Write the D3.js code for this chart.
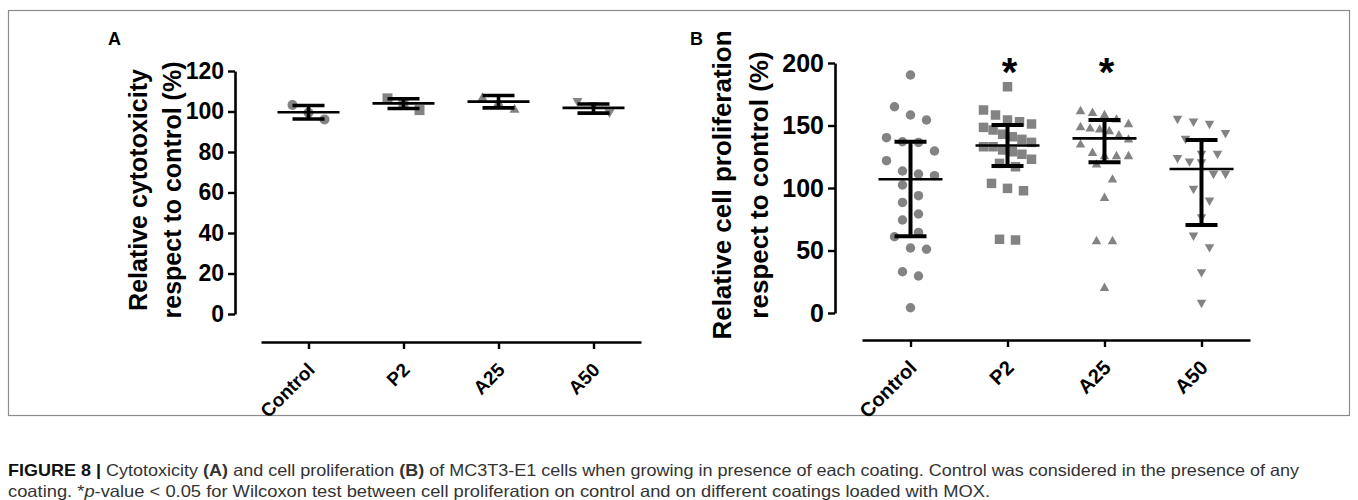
<!DOCTYPE html>
<html>
<head>
<meta charset="utf-8">
<script src="https://cdn.jsdelivr.net/npm/d3@7"></script>
<style>
  body { margin: 0; background: #fff; }
  svg { display: block; }
</style>
</head>
<body>
<svg id="chart" width="1358" height="500"></svg>
<script>
// groups along the x axis
var categories = ['Control', 'P2', 'A25', 'A50'];

// panel A: relative cytotoxicity, 3 replicates per group, mean +/- SD
var cytoValues = [
  [103.2, 96.1, 99.4],
  [106.5, 100.7, 104],
  [107.3, 101.6, 104.9],
  [104.5, 99, 102.5]
];
var cytoCenter = [99.6, 104, 104.9, 101.8];
var cytoLow = [96.3, 101.5, 101.8, 99.2];
var cytoHigh = [103, 106.3, 107.9, 103.7];
var cytoTicks = [0, 20, 40, 60, 80, 100, 120];

// panel B: relative cell proliferation, median with interquartile range
var prolifControl = [190.4, 165, 158.4, 154.4, 140.3, 137, 136.5, 129.6, 121.9, 113.6, 111.2, 109.9,
  102.4, 93.9, 88.5, 79.2, 74.4, 64.5, 61, 52, 51, 33, 29.6, 4.2];
var prolifP2 = [181, 162.4, 158.4, 154.4, 153, 151.2, 148.5, 146.4, 143, 141, 138.9, 136.5, 133, 133,
  130.4, 129, 127, 123, 119.7, 117, 103.7, 99.7, 97.8, 59, 58.4];
var prolifA25 = [162.4, 161, 159.2, 155.7, 152, 149.6, 148.5, 147.7, 146.4, 143, 139.7, 135.7, 129,
  126.4, 126.4, 126.4, 119.7, 107.7, 93, 58.4, 58.4, 21];
var prolifA50 = [154.4, 152.2, 150.4, 143, 138.4, 126.4, 126.4, 123, 120.3, 119.7, 110.4, 110.4, 98.4,
  89, 75.7, 61, 51.7, 31.7, 7.2];
var prolifCenter = [107, 134, 139.7, 115.2];
var prolifLow = [61.5, 117.6, 120.6, 70.4];
var prolifHigh = [137, 150.4, 154.4, 138.4];
var prolifTicks = [0, 50, 100, 150, 200];
var significant = ['P2', 'A25'];

var FONT = '"Liberation Sans", Arial, Helvetica, sans-serif';
var GREY = '#838383';

var svg = d3.select('#chart');
svg.append('rect').attr('width', 1358).attr('height', 500).attr('fill', '#fff');

// outer frame of the figure
svg.append('rect')
  .attr('x', 8.5).attr('y', 10.5)
  .attr('width', 1341).attr('height', 405)
  .attr('fill', 'none')
  .attr('stroke', '#8c8c8c')
  .attr('stroke-width', 1.2);

// spread the points of one group sideways (rows of similar value, centred)
function swarm(vals, y, gap, binH, maxW){
  var order = vals.map(function(v, i){ return i; })
    .sort(function(a, b){ return vals[b] - vals[a]; });
  var off = vals.map(function(){ return 0; });
  var bin = [], y0 = 0;
  function flush(){
    var n = bin.length;
    var s = n > 1 ? Math.min(gap, maxW / (n - 1)) : 0;
    bin.forEach(function(k, j){ off[k] = (j - (n - 1) / 2) * s; });
    bin = [];
  }
  order.forEach(function(i){
    var yy = y(vals[i]);
    if(bin.length && yy - y0 > binH) flush();
    if(!bin.length) y0 = yy;
    bin.push(i);
  });
  flush();
  return off;
}

function markerPath(kind, s){
  if(kind === 'circle') return d3.symbol(d3.symbolCircle, Math.PI * s * s / 4)();
  if(kind === 'square') return d3.symbol(d3.symbolSquare, s * s)();
  var h = s * 0.88, w = s;
  if(kind === 'up') return 'M0,' + (-h / 2) + 'L' + (w / 2) + ',' + (h / 2) + 'L' + (-w / 2) + ',' + (h / 2) + 'Z';
  return 'M0,' + (h / 2) + 'L' + (w / 2) + ',' + (-h / 2) + 'L' + (-w / 2) + ',' + (-h / 2) + 'Z';
}
var kinds = ['circle', 'square', 'up', 'down'];

function drawPanel(o){
  var g = svg.append('g');
  var y = d3.scaleLinear().domain(o.domain).range([o.y0, o.y1]);
  var x = d3.scalePoint().domain(categories).range([o.xa, o.xb]).padding(0.5);

  // y axis
  var ya = g.append('g')
    .attr('transform', 'translate(' + o.yAxisX + ',0)')
    .call(d3.axisLeft(y).tickValues(o.ticks).tickSize(7).tickSizeOuter(0).tickPadding(4));
  ya.select('.domain').attr('stroke', '#000').attr('stroke-width', 2.6);
  ya.selectAll('.tick line').attr('stroke', '#000').attr('stroke-width', 2.4);
  ya.selectAll('.tick text')
    .attr('fill', '#000')
    .style('font-family', FONT).style('font-weight', 'bold').style('font-size', o.tickFont + 'px');

  // x axis
  var xa = g.append('g')
    .attr('transform', 'translate(0,' + o.xAxisY + ')')
    .call(d3.axisBottom(x).tickSize(7).tickSizeOuter(0));
  xa.select('.domain').attr('stroke', '#000').attr('stroke-width', 2.6);
  xa.selectAll('.tick line').attr('stroke', '#000').attr('stroke-width', 2.4);
  xa.selectAll('.tick text')
    .attr('x', 0).attr('y', 0).attr('dy', null)
    .attr('text-anchor', 'end')
    .attr('transform', 'translate(7,29) rotate(-45)')
    .attr('fill', '#000')
    .style('font-family', FONT).style('font-weight', 'bold').style('font-size', o.catFont + 'px');

  // y title, two lines
  var tx = g.append('text')
    .attr('transform', 'translate(0,' + o.titleY + ') rotate(-90)')
    .attr('text-anchor', 'middle')
    .style('font-family', FONT).style('font-weight', 'bold').style('font-size', o.titleFont + 'px');
  o.title.forEach(function(line, i){
    tx.append('tspan').attr('x', 0).attr('y', o.titleX[i]).text(line);
  });

  // panel letter
  g.append('text')
    .attr('x', o.letterX).attr('y', 45)
    .style('font-family', FONT).style('font-weight', 'bold').style('font-size', '18px')
    .text(o.letter);

  // points
  categories.forEach(function(c, ci){
    var vals = o.values[ci];
    var off = swarm(vals, y, o.gap, o.binH, o.maxW);
    g.append('g').selectAll('path')
      .data(vals)
      .enter().append('path')
      .attr('transform', function(d, i){ return 'translate(' + (x(c) + off[i]) + ',' + y(d) + ')'; })
      .attr('d', markerPath(kinds[ci], o.marker))
      .attr('fill', GREY);
  });

  // summary line and error bars on top of the points
  var eb = g.append('g').attr('stroke', '#000').attr('fill', 'none');
  categories.forEach(function(c, ci){
    var cx = x(c);
    eb.append('line')
      .attr('x1', cx).attr('x2', cx)
      .attr('y1', y(o.low[ci])).attr('y2', y(o.high[ci]))
      .attr('stroke-width', o.barW);
    [o.low[ci], o.high[ci]].forEach(function(v){
      eb.append('line')
        .attr('x1', cx - o.capW / 2).attr('x2', cx + o.capW / 2)
        .attr('y1', y(v)).attr('y2', y(v))
        .attr('stroke-width', o.barW);
    });
    eb.append('line')
      .attr('x1', cx - o.lineW / 2).attr('x2', cx + o.lineW / 2)
      .attr('y1', y(o.center[ci])).attr('y2', y(o.center[ci]))
      .attr('stroke-width', 2.6);
  });

  // significance stars
  if(o.stars){
    g.selectAll('.star')
      .data(o.stars)
      .enter().append('text')
      .attr('class', 'star')
      .attr('x', function(d){ return x(d) + 2; })
      .attr('y', 86)
      .attr('text-anchor', 'middle')
      .style('font-family', FONT).style('font-weight', 'bold').style('font-size', '40px')
      .text('*');
  }
}

drawPanel({
  letter: 'A', letterX: 108,
  domain: [0, 120], ticks: cytoTicks, y0: 314, y1: 71, yAxisX: 235,
  xa: 261, xb: 641, xAxisY: 342,
  values: cytoValues, center: cytoCenter, low: cytoLow, high: cytoHigh,
  title: ['Relative cytotoxicity', 'respect to control (%)'],
  titleX: [147, 181], titleY: 190, titleFont: 25,
  tickFont: 23, catFont: 19,
  marker: 10, gap: 16, binH: 16, maxW: 48,
  lineW: 62, capW: 32, barW: 3.6
});

drawPanel({
  letter: 'B', letterX: 690,
  domain: [0, 200], ticks: prolifTicks, y0: 313, y1: 63, yAxisX: 835,
  xa: 862, xb: 1250, xAxisY: 340,
  values: [prolifControl, prolifP2, prolifA25, prolifA50],
  center: prolifCenter, low: prolifLow, high: prolifHigh,
  title: ['Relative cell proliferation', 'respect to control (%)'],
  titleX: [731, 768], titleY: 185, titleFont: 26,
  tickFont: 25, catFont: 20,
  marker: 9.5, gap: 16, binH: 16, maxW: 48,
  lineW: 64, capW: 32, barW: 4,
  stars: significant
});

// caption
var cap = svg.append('g')
  .style('font-family', '"Liberation Sans Narrow", "Liberation Sans", Arial, sans-serif')
  .style('font-size', '16.5px')
  .attr('fill', '#333');

var line1 = cap.append('text').attr('x', 8).attr('y', 476)
  .attr('textLength', 1291).attr('lengthAdjust', 'spacingAndGlyphs');
line1.append('tspan').style('font-weight', 'bold').attr('fill', '#111').text('FIGURE 8 |');
line1.append('tspan').text(' Cytotoxicity ');
line1.append('tspan').style('font-weight', 'bold').text('(A)');
line1.append('tspan').text(' and cell proliferation ');
line1.append('tspan').style('font-weight', 'bold').text('(B)');
line1.append('tspan').text(' of MC3T3-E1 cells when growing in presence of each coating. Control was considered in the presence of any');

var line2 = cap.append('text').attr('x', 8).attr('y', 497)
  .attr('textLength', 982).attr('lengthAdjust', 'spacingAndGlyphs');
line2.append('tspan').text('coating. *');
line2.append('tspan').style('font-style', 'italic').text('p');
line2.append('tspan').text('-value < 0.05 for Wilcoxon test between cell proliferation on control and on different coatings loaded with MOX.');
</script>
</body>
</html>
